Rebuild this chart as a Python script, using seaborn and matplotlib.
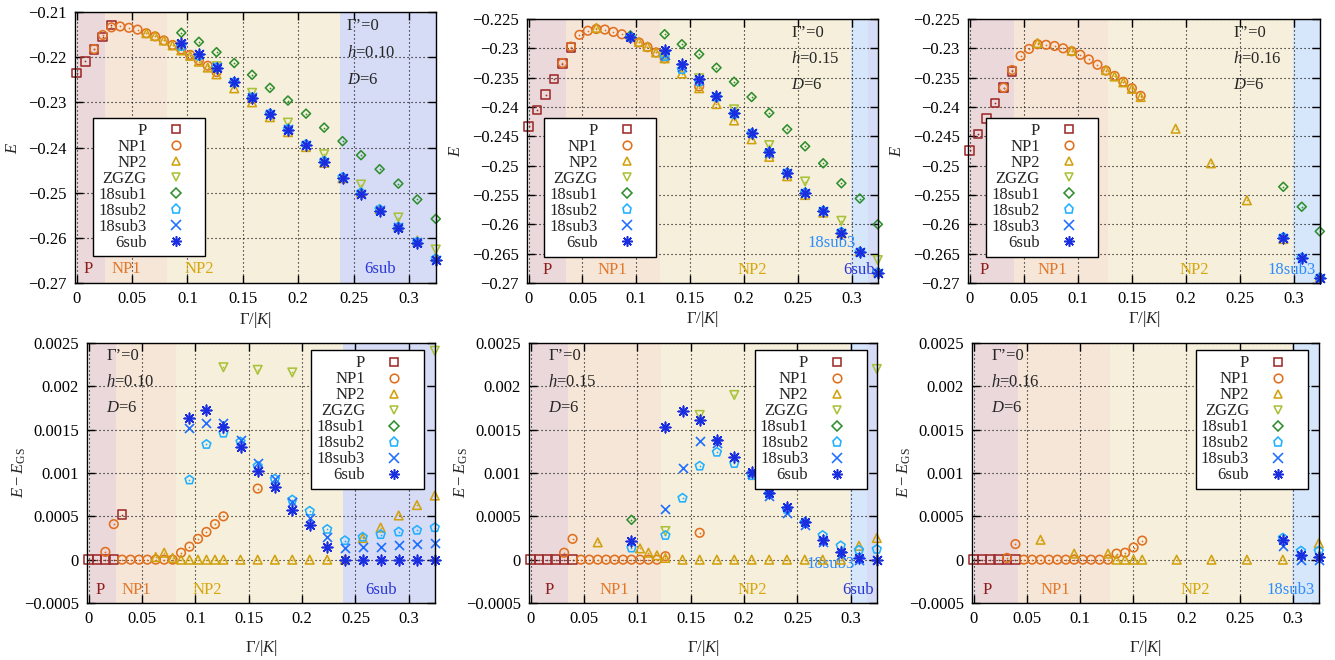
import numpy as np
import matplotlib
matplotlib.use("Agg")
import matplotlib.pyplot as plt
from matplotlib.lines import Line2D
from matplotlib.ticker import FuncFormatter, MultipleLocator
import seaborn as sns

# Gamma/|K| grid used by all panels
GAMMA = [0, 0.0079, 0.0157, 0.0236, 0.0314, 0.0393, 0.0472, 0.0550, 0.0629, 0.0708,
         0.0787, 0.0866, 0.0945, 0.1025, 0.1104, 0.1184, 0.1263, 0.1343, 0.1423, 0.1503,
         0.1584, 0.1745, 0.1908, 0.2071, 0.2235, 0.2401, 0.2568, 0.2736, 0.2905, 0.3076,
         0.3243]

STATES = ["P", "NP1", "NP2", "ZGZG", "18sub1", "18sub2", "18sub3", "6sub"]
N = None

# each entry: (index of first point in GAMMA, values; None = no point)
# ---- h = 0.10 ----
E_h010 = {
    "P": (0, [-0.2235, -0.2209, -0.2183, -0.2155, -0.2129]),
    "NP1": (2, [-0.2182, -0.2151, -0.2134, -0.2132, -0.2135, -0.2139, -0.2147, -0.2154, -0.2163,
                -0.2173, -0.2183, -0.2195, -0.2207, -0.2219, -0.2233, N, N, N, -0.2292]),
    "NP2": (8, [-0.2147, -0.2153, -0.2163, -0.2174, -0.2185, -0.2197, -0.2210, -0.2223, -0.2238,
                N, -0.2269, N, -0.2300, -0.2333, -0.2366, -0.2399, -0.2434, -0.2468, -0.2500,
                -0.2536, -0.2574, -0.2606, -0.2643]),
    "ZGZG": (16, [-0.2220, N, N, N, -0.2279, N, -0.2345, N, -0.2415, N, -0.2482, N, -0.2555, N,
                  -0.2626]),
    "18sub1": (12, [-0.2146, N, -0.2166, N, -0.2189, N, -0.2213, N, -0.2239, -0.2268, -0.2296,
                    -0.2325, -0.2356, -0.2386, -0.2417, -0.2448, -0.2480, -0.2515, -0.2558]),
    "18sub2": (12, [-0.2176, N, -0.2197, N, -0.2223, N, -0.2255, N, -0.2289, -0.2325, -0.2359,
                    -0.2393, -0.2430, -0.2466, -0.2500, -0.2537, -0.2576, -0.2609, -0.2646]),
    "18sub3": (12, [-0.2170, N, -0.2194, N, -0.2222, N, -0.2255, N, -0.2289, -0.2325, -0.2360,
                    -0.2394, -0.2431, -0.2467, -0.2502, -0.2538, -0.2577, -0.2610, -0.2648]),
    "6sub": (12, [-0.2169, N, -0.2193, N, -0.2223, N, -0.2255, N, -0.2290, -0.2325, -0.2361,
                  -0.2395, -0.2432, -0.2468, -0.2503, -0.2540, -0.2579, -0.2612, -0.2650]),
}
dE_h010 = {
    "P": (0, [0, 0, 0, 0, 0.00052]),
    "NP1": (2, [0.00009, 0.00041, 0, 0, 0, 0, 0, 0, 0, 0.00008, 0.00015, 0.00024, 0.00032,
                0.00041, 0.0005, N, N, N, 0.00082]),
    "NP2": (8, [0.00003, 0.00008, 0.00002, 0, 0, 0, 0, 0, 0, N, 0, N, 0, 0, 0, 0, 0, 0,
                0.00025, 0.00037, 0.00051, 0.00063, 0.00074]),
    "ZGZG": (16, [0.00222, N, N, N, 0.00219, N, 0.00216, N, N, N, N, N, N, N, 0.00241]),
    "18sub1": (0, []),
    "18sub2": (12, [0.00092, N, 0.00133, N, 0.00146, N, 0.00136, N, 0.00108, 0.00093, 0.00069,
                    0.00056, 0.00035, 0.00022, 0.00026, 0.00029, 0.00032, 0.00034, 0.00037]),
    "18sub3": (12, [0.00152, N, 0.00158, N, 0.00158, N, 0.00138, N, 0.00111, 0.00093, 0.00067,
                    0.00048, 0.00026, 0.00013, 0.00015, 0.00015, 0.00017, 0.00018, 0.00019]),
    "6sub": (12, [0.00163, N, 0.00173, N, 0.00153, N, 0.0013, N, 0.00102, 0.00084, 0.00057,
                  0.0004, 0.00015, 0, 0, 0, 0, 0, 0]),
}

# ---- h = 0.15 ----
E_h015 = {
    "P": (0, [-0.2433, -0.2405, -0.2379, -0.2352, -0.2326, -0.2299]),
    "NP1": (4, [-0.2325, -0.2297, -0.2277, -0.2270, -0.2267, -0.2268, -0.2272, -0.2276, -0.2282,
                -0.2290, -0.2298, -0.2307, -0.2317, N, N, N, -0.2365]),
    "NP2": (8, [-0.2265, N, N, N, N, -0.2289, -0.2297, -0.2307, -0.2317, N, -0.2343, N, -0.2368,
                -0.2395, -0.2423, -0.2455, -0.2485, -0.2518, -0.2550, -0.2580, -0.2615, -0.2646,
                -0.2681]),
    "ZGZG": (16, [-0.2314, N, N, N, -0.2351, N, -0.2404, N, -0.2465, N, -0.2527, N, -0.2594, N,
                  -0.2661]),
    "18sub1": (12, [-0.2278, N, N, N, -0.2276, N, -0.2293, N, -0.2310, -0.2333, -0.2357, -0.2383,
                    -0.2410, -0.2438, -0.2467, -0.2496, -0.2530, -0.2556, -0.2600]),
    "18sub2": (12, [-0.2281, N, N, N, -0.2314, N, -0.2336, N, -0.2357, -0.2383, -0.2412, -0.2445,
                    -0.2477, -0.2512, -0.2546, -0.2577, -0.2613, -0.2647, -0.2682]),
    "18sub3": (16, [-0.2311, N, -0.2332, N, -0.2354, -0.2381, -0.2411, -0.2445, -0.2478, -0.2513,
                    -0.2546, -0.2578, -0.2614, -0.2648, -0.2683]),
    "6sub": (12, [-0.2280, N, N, N, -0.2302, N, -0.2326, N, -0.2352, -0.2381, -0.2411, -0.2445,
                  -0.2477, -0.2512, -0.2546, -0.2578, -0.2614, -0.2648, -0.2683]),
}
dE_h015 = {
    "P": (0, [0, 0, 0, 0, 0, 0]),
    "NP1": (4, [0.00008, 0.00024, 0, 0, 0, 0, 0, 0, 0, 0, 0, 0, 0.00004, N, N, N, 0.00031]),
    "NP2": (8, [0.0002, N, N, N, N, 0.00013, 0.00008, 0.00005, 0.00002, N, 0, N, 0, 0, 0, 0, 0,
                0, 0, 0, 0, 0.00016, 0.00025]),
    "ZGZG": (16, [0.00033, N, N, N, 0.00167, N, 0.0019, N, N, N, N, N, N, N, 0.0022]),
    "18sub1": (12, [0.00046]),
    "18sub2": (12, [0.000135, N, N, N, 0.00028, N, 0.00071, N, 0.00108, 0.00124, 0.00111,
                    0.00097, 0.00076, 0.00058, 0.00043, 0.00028, 0.00016, 0.00011, 0.00012]),
    "18sub3": (16, [0.00058, N, 0.00106, N, 0.00137, 0.00135, 0.00118, 0.00099, 0.00074,
                    0.00054, 0.0004, 0.0002, 0.00005, 0, 0]),
    "6sub": (12, [0.00022, N, N, N, 0.00153, N, 0.00172, N, 0.00161, 0.00138, 0.00118, 0.00101,
                  0.00077, 0.00061, 0.00044, 0.00023, 0.00009, 0.00002, 0]),
}

# ---- h = 0.16 ----
E_h016 = {
    "P": (0, [-0.2474, -0.2446, -0.2420, -0.2393, -0.2367, -0.2339]),
    "NP1": (4, [-0.2367, -0.2337, -0.2313, -0.2301, -0.2293, -0.2294, -0.2296, -0.2300, -0.2305,
                -0.2311, -0.2319, -0.2328, -0.2338, -0.2347, -0.2357, -0.2368, -0.2381]),
    "NP2": (8, [-0.2291, N, N, N, -0.2304, N, N, N, -0.2337, -0.2348, -0.2358, -0.2369, -0.2383,
                N, -0.2437, N, -0.2496, N, -0.2559, N, -0.2625, N, -0.2690]),
    "ZGZG": (0, []),
    "18sub1": (28, [-0.2536, -0.2570, -0.2612]),
    "18sub2": (28, [-0.2622, -0.2657, -0.2691]),
    "18sub3": (28, [-0.2623, -0.2658, -0.2692]),
    "6sub": (28, [-0.2623, -0.2657, -0.2692]),
}
dE_h016 = {
    "P": (0, [0, 0, 0, 0, 0, 0]),
    "NP1": (4, [0.00002, 0.00018, 0, 0, 0, 0, 0, 0, 0, 0, 0, 0, 0, 0.00007, 0.00008, 0.00014,
                0.00022]),
    "NP2": (8, [0.00023, N, N, N, 0.00007, N, N, N, 0.00007, 0, 0, 0, 0, N, 0, N, 0, N, 0, N, 0,
                N, 0.00019]),
    "ZGZG": (0, []),
    "18sub1": (0, []),
    "18sub2": (28, [0.00025, 0.0001, 0.0001]),
    "18sub3": (28, [0.00016, 0, 0]),
    "6sub": (28, [0.00023, 0.00005, 0.00003]),
}

# phase regions: (phase, from, to)
bands_h010 = [("P", 0, 0.026), ("NP1", 0.026, 0.0815), ("NP2", 0.0815, 0.238), ("6sub", 0.238, 0.33)]
bands_h015 = [("P", 0, 0.035), ("NP1", 0.035, 0.122), ("NP2", 0.122, 0.2995),
              ("18sub3", 0.2995, 0.3155), ("6sub", 0.3155, 0.33)]
bands_h016 = [("P", 0, 0.0415), ("NP1", 0.0415, 0.1285), ("NP2", 0.1285, 0.2995), ("18sub3", 0.2995, 0.33)]

# phase name labels: (text, x, y in axes fraction)
labels_h010 = [("P", 0.0105, 0.05), ("NP1", 0.045, 0.05), ("NP2", 0.111, 0.05), ("6sub", 0.274, 0.05)]
labels_h015 = [("P", 0.017, 0.05), ("NP1", 0.078, 0.05), ("NP2", 0.208, 0.05),
               ("18sub3", 0.281, 0.15), ("6sub", 0.307, 0.05)]
labels_h016 = [("P", 0.013, 0.05), ("NP1", 0.077, 0.05), ("NP2", 0.208, 0.05), ("18sub3", 0.298, 0.05)]

COLORS = {"P": "#9e2a2b", "NP1": "#e0701f", "NP2": "#d1a10e", "ZGZG": "#a9c23a",
          "18sub1": "#2f8f2f", "18sub2": "#1fb0ff", "18sub3": "#1f6fff", "6sub": "#1a2ee0"}
MARKERS = {"P": "s", "NP1": "o", "NP2": "^", "ZGZG": "v", "18sub1": "D", "18sub2": "p",
           "18sub3": "x", "6sub": (8, 2, 0)}
SIZES = {"P": 6.2, "NP1": 6.2, "NP2": 6.2, "ZGZG": 6.2, "18sub1": 4.6, "18sub2": 6.6,
         "18sub3": 6.5, "6sub": 7.5}
BAND_COLORS = {"P": "#ead8da", "NP1": "#f6e6d8", "NP2": "#f6efdb", "6sub": "#d6dbf6",
               "18sub3": "#d6e6fb"}
LABEL_COLORS = {"P": "#8e1c1c", "NP1": "#e2782a", "NP2": "#d6a80e", "6sub": "#2a36d6",
                "18sub3": "#2b8dff"}

sns.set_style("ticks")
plt.rcParams["font.family"] = ["Liberation Serif", "DejaVu Serif"]
plt.rcParams["mathtext.fontset"] = "custom"
plt.rcParams["mathtext.rm"] = "Liberation Serif"
plt.rcParams["mathtext.it"] = "Liberation Serif:italic"
plt.rcParams["axes.unicode_minus"] = True

FS = 12


def fmt(v, pos):
    if abs(v) < 1e-12:
        return "0"
    return ("%g" % round(v, 6)).replace("-", "\u2212")


def draw_panel(ax, series, bands, labels, ylim, ystep, h, top, leg_anchor):
    for name, a, b in bands:
        ax.axvspan(a, b, color=BAND_COLORS[name], lw=0, zorder=0)
    for i, name in enumerate(STATES):
        i0, vals = series[name]
        if not vals:
            continue
        x = np.array(GAMMA[i0:i0 + len(vals)])
        y = np.array(vals, dtype=float)
        ok = ~np.isnan(y)
        x, y = x[ok], y[ok]
        m = MARKERS[name]
        s = SIZES[name] ** 2
        if name in ("18sub3", "6sub"):
            sns.scatterplot(x=x, y=y, marker=m, s=s, color=COLORS[name], linewidth=1.2,
                            ax=ax, zorder=3 + i, clip_on=False, legend=False)
        else:
            sns.scatterplot(x=x, y=y, marker=m, s=s, facecolor="none", edgecolor=COLORS[name],
                            linewidth=1.15, ax=ax, zorder=3 + i, clip_on=False, legend=False)
            sns.scatterplot(x=x, y=y, marker="o", s=1.6, color=COLORS[name], linewidth=0,
                            ax=ax, zorder=3 + i, clip_on=False, legend=False)
    for text, xx, yy in labels:
        ax.text(xx, yy, text, color=LABEL_COLORS[text], fontsize=FS, ha="center", va="center",
                transform=ax.get_xaxis_transform(), zorder=2)

    ax.set_xlim(-0.0015, 0.3245)
    ax.set_ylim(*ylim)
    ax.xaxis.set_major_locator(MultipleLocator(0.05))
    ax.yaxis.set_major_locator(MultipleLocator(ystep))
    ax.xaxis.set_major_formatter(FuncFormatter(fmt))
    ax.yaxis.set_major_formatter(FuncFormatter(fmt))
    ax.set_axisbelow(True)
    ax.grid(True, color="black", lw=0.8, ls=(0, (1, 2.6)))
    ax.tick_params(direction="in", top=True, right=True, length=6, width=1,
                   labelsize=FS, pad=6, colors="black")
    for sp in ax.spines.values():
        sp.set_linewidth(1)
        sp.set_color("black")
        sp.set_zorder(20)

    ax.set_xlabel("Γ/|$K$|", fontsize=FS)
    if top:
        ax.set_ylabel("$E$", fontsize=FS)
        ax.xaxis.set_label_coords(0.5, -0.1)
        tx, ty = 0.753, [0.948, 0.849, 0.749]
    else:
        ax.set_ylabel(r"$E - E_{\rm GS}$", fontsize=FS)
        ax.xaxis.set_label_coords(0.5, -0.135)
        tx, ty = 0.055, [0.95, 0.85, 0.75]
    ax.text(tx, ty[0], "Γ’=0", transform=ax.transAxes, fontsize=FS, va="center", zorder=30)
    ax.text(tx, ty[1], "$h$=%.2f" % h, transform=ax.transAxes, fontsize=FS, va="center", zorder=30)
    ax.text(tx, ty[2], "$D$=6", transform=ax.transAxes, fontsize=FS, va="center", zorder=30)

    handles = [Line2D([], [], ls="none", marker=MARKERS[n], ms=SIZES[n],
                      mfc="none", mec=COLORS[n], mew=1.15) for n in STATES]
    leg = ax.legend(handles, STATES, loc="upper left" if top else "upper right",
                    bbox_to_anchor=leg_anchor, borderaxespad=0, markerfirst=False,
                    fontsize=FS, frameon=True, fancybox=False, framealpha=1,
                    edgecolor="black", handlelength=2.9, handletextpad=0.3,
                    labelspacing=0.0, borderpad=0.32)
    leg.get_frame().set_linewidth(1)
    leg.set_zorder(40)


W, H = 1335, 660
fig = plt.figure(figsize=(W / 100, H / 100), dpi=100)


def add_ax(x0, y0, x1, y1):
    return fig.add_axes([x0 / W, 1 - y1 / H, (x1 - x0) / W, (y1 - y0) / H])


ax1 = add_ax(75, 12, 436, 283)
ax2 = add_ax(527, 19, 878, 283)
ax3 = add_ax(968, 19, 1320, 283)
ax4 = add_ax(87, 343, 435, 603)
ax5 = add_ax(529, 343, 877, 603)
ax6 = add_ax(972, 343, 1319, 603)

draw_panel(ax1, E_h010, bands_h010, labels_h010, (-0.27, -0.21), 0.01, 0.10, True, (0.05, 0.61))
draw_panel(ax2, E_h015, bands_h015, labels_h015, (-0.27, -0.225), 0.005, 0.15, True, (0.048, 0.625))
draw_panel(ax3, E_h016, bands_h016, labels_h016, (-0.27, -0.225), 0.005, 0.16, True, (0.051, 0.625))
draw_panel(ax4, dE_h010, bands_h010, labels_h010, (-0.0005, 0.0025), 0.0005, 0.10, False, (0.968, 0.973))
draw_panel(ax5, dE_h015, bands_h015, labels_h015, (-0.0005, 0.0025), 0.0005, 0.15, False, (0.971, 0.973))
draw_panel(ax6, dE_h016, bands_h016, labels_h016, (-0.0005, 0.0025), 0.0005, 0.16, False, (0.968, 0.973))

ax1.yaxis.set_label_coords(-0.15, 0.5)
for a in (ax2, ax3):
    a.yaxis.set_label_coords(-0.18, 0.5)
for a in (ax4, ax5, ax6):
    a.yaxis.set_label_coords(-0.17, 0.5)

fig.savefig("out.png", dpi=100)
